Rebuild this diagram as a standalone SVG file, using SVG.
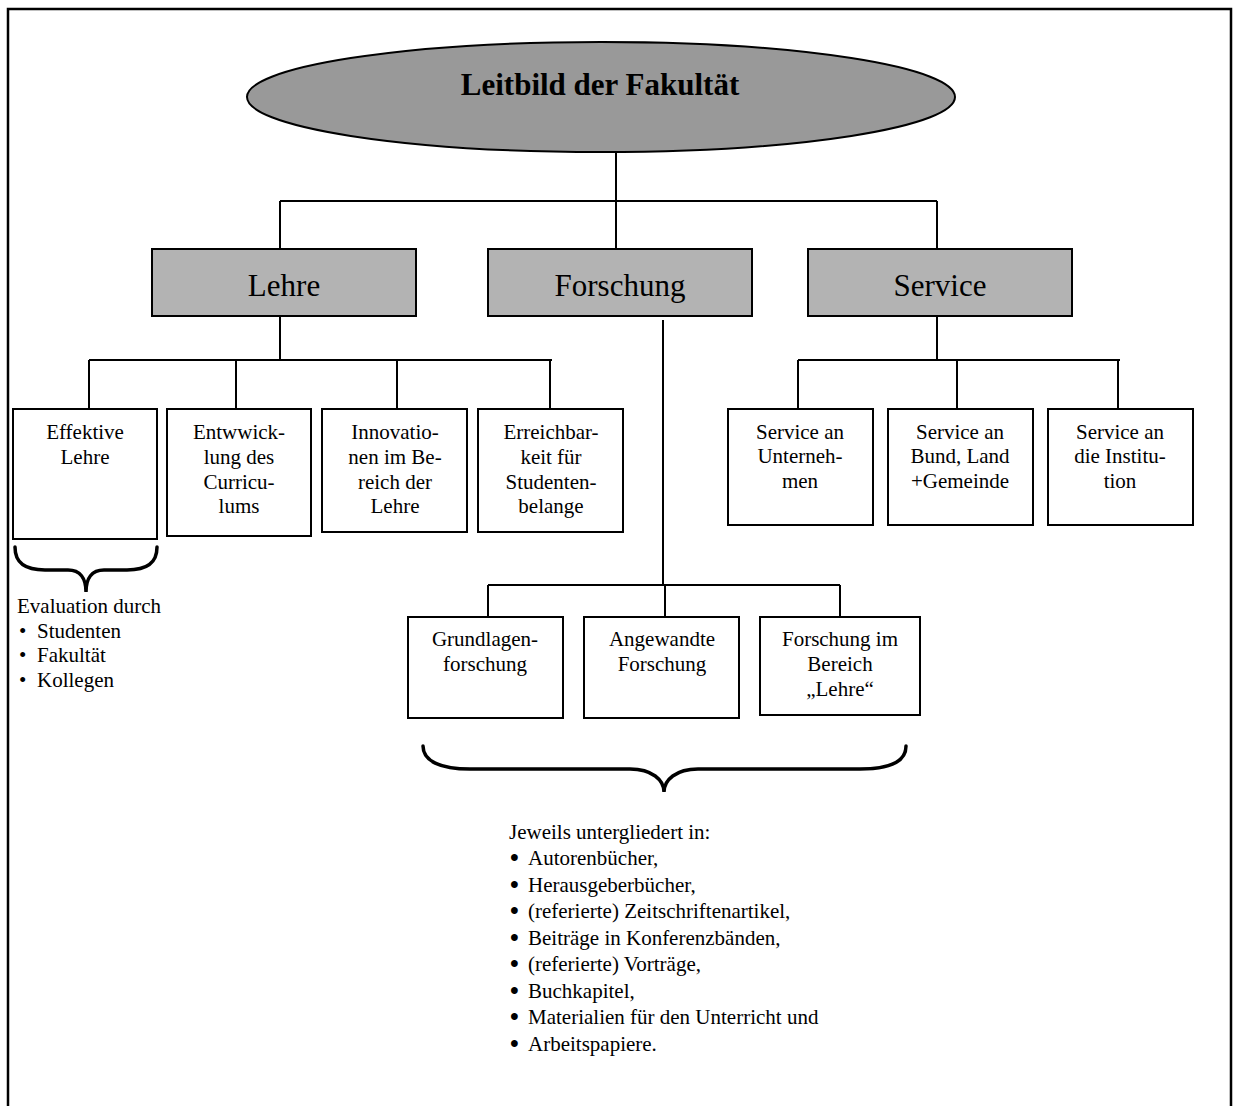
<svg xmlns="http://www.w3.org/2000/svg" width="1233" height="1106" viewBox="0 0 1233 1106">
<style>
text{font-family:"Liberation Serif","Times New Roman",serif;fill:#000}
.t{font-size:21px;text-anchor:middle}
.h{font-size:31px;text-anchor:middle}
.l{font-size:21px}
.b{font-size:25px;font-weight:bold}
.box{fill:#fff;stroke:#000;stroke-width:2}
.gbox{fill:#b3b3b3;stroke:#000;stroke-width:2}
.c{fill:none;stroke:#000;stroke-width:2}
.br{fill:none;stroke:#000;stroke-width:3.5;stroke-linecap:round}
</style>
<rect x="0" y="0" width="1233" height="1106" fill="#fff"/>
<path d="M8,1106 V9 H1231 V1106" fill="none" stroke="#000" stroke-width="2.5"/>
<g id="connectors">
<path class="c" d="M616,152 V201 M280,201 H937 M280,201 V249 M616,201 V249 M937,201 V249"/>
<path class="c" d="M280,316 V360 M89,360 H552 M89,360 V408 M236,360 V408 M397,360 V408 M550,360 V408"/>
<path class="c" d="M663,320 V585 M488,585 H840 M488,585 V617 M665,585 V617 M840,585 V617"/>
<path class="c" d="M937,316 V360 M798,360 H1120 M798,360 V408 M957,360 V408 M1118,360 V408"/>
</g>
<g id="root">
<ellipse cx="601" cy="97" rx="354" ry="55" fill="#999" stroke="#000" stroke-width="2"/>
<text x="600" y="95" font-size="31" font-weight="bold" text-anchor="middle">Leitbild der Fakultät</text>
</g>
<g id="lehre"><rect class="gbox" x="152" y="249" width="264" height="67"/><text class="h" x="284" y="296">Lehre</text></g>
<g id="forschung"><rect class="gbox" x="488" y="249" width="264" height="67"/><text class="h" x="620" y="296">Forschung</text></g>
<g id="service"><rect class="gbox" x="808" y="249" width="264" height="67"/><text class="h" x="940" y="296">Service</text></g>

<g id="effektive"><rect class="box" x="13" y="409" width="144" height="130"/><text class="t" x="85" y="439">Effektive</text><text class="t" x="85" y="464">Lehre</text></g>
<g id="entwicklung"><rect class="box" x="167" y="409" width="144" height="127"/><text class="t" x="239" y="439">Entwwick-</text><text class="t" x="239" y="464">lung des</text><text class="t" x="239" y="489">Curricu-</text><text class="t" x="239" y="513">lums</text></g>
<g id="innovationen"><rect class="box" x="322" y="409" width="145" height="123"/><text class="t" x="395" y="439">Innovatio-</text><text class="t" x="395" y="464">nen im Be-</text><text class="t" x="395" y="489">reich der</text><text class="t" x="395" y="513">Lehre</text></g>
<g id="erreichbarkeit"><rect class="box" x="478" y="409" width="145" height="123"/><text class="t" x="551" y="439">Erreichbar-</text><text class="t" x="551" y="464">keit für</text><text class="t" x="551" y="489">Studenten-</text><text class="t" x="551" y="513">belange</text></g>

<g id="svc-unternehmen"><rect class="box" x="728" y="409" width="145" height="116"/><text class="t" x="800" y="439">Service an</text><text class="t" x="800" y="463">Unterneh-</text><text class="t" x="800" y="488">men</text></g>
<g id="svc-bund"><rect class="box" x="888" y="409" width="145" height="116"/><text class="t" x="960" y="439">Service an</text><text class="t" x="960" y="463">Bund, Land</text><text class="t" x="960" y="488">+Gemeinde</text></g>
<g id="svc-institution"><rect class="box" x="1048" y="409" width="145" height="116"/><text class="t" x="1120" y="439">Service an</text><text class="t" x="1120" y="463">die Institu-</text><text class="t" x="1120" y="488">tion</text></g>

<g id="grundlagen"><rect class="box" x="408" y="617" width="155" height="101"/><text class="t" x="485" y="646">Grundlagen-</text><text class="t" x="485" y="671">forschung</text></g>
<g id="angewandte"><rect class="box" x="584" y="617" width="155" height="101"/><text class="t" x="662" y="646">Angewandte</text><text class="t" x="662" y="671">Forschung</text></g>
<g id="forschung-lehre"><rect class="box" x="760" y="617" width="160" height="98"/><text class="t" x="840" y="646">Forschung im</text><text class="t" x="840" y="671">Bereich</text><text class="t" x="840" y="696">„Lehre“</text></g>

<g id="brace-eval">
<path class="br" d="M15,547 C15,563 25,570 45,570 L68,570 C80,570 86,578 86,592 C86,578 92,570 104,570 L127,570 C147,570 157,563 157,547"/>
</g>
<g id="evaluation">
<text class="l" x="17" y="613">Evaluation durch</text>
<text class="l" x="19" y="638">•</text><text class="l" x="37" y="638">Studenten</text>
<text class="l" x="19" y="662">•</text><text class="l" x="37" y="662">Fakultät</text>
<text class="l" x="19" y="687">•</text><text class="l" x="37" y="687">Kollegen</text>
</g>
<g id="brace-forschung">
<path class="br" d="M423,746 C423,761 440,769 470,769 L630,769 C652,769 664,780 664,792 C664,780 676,769 698,769 L860,769 C890,769 906,761 906,746"/>
</g>
<g id="untergliederung">
<text class="l" x="509" y="839">Jeweils untergliedert in:</text>
<text class="b" x="510" y="866">•</text><text class="l" x="528" y="865">Autorenbücher,</text>
<text class="b" x="510" y="893">•</text><text class="l" x="528" y="892">Herausgeberbücher,</text>
<text class="b" x="510" y="919">•</text><text class="l" x="528" y="918">(referierte) Zeitschriftenartikel,</text>
<text class="b" x="510" y="946">•</text><text class="l" x="528" y="945">Beiträge in Konferenzbänden,</text>
<text class="b" x="510" y="972">•</text><text class="l" x="528" y="971">(referierte) Vorträge,</text>
<text class="b" x="510" y="999">•</text><text class="l" x="528" y="998">Buchkapitel,</text>
<text class="b" x="510" y="1025">•</text><text class="l" x="528" y="1024">Materialien für den Unterricht und</text>
<text class="b" x="510" y="1052">•</text><text class="l" x="528" y="1051">Arbeitspapiere.</text>
</g>
</svg>
